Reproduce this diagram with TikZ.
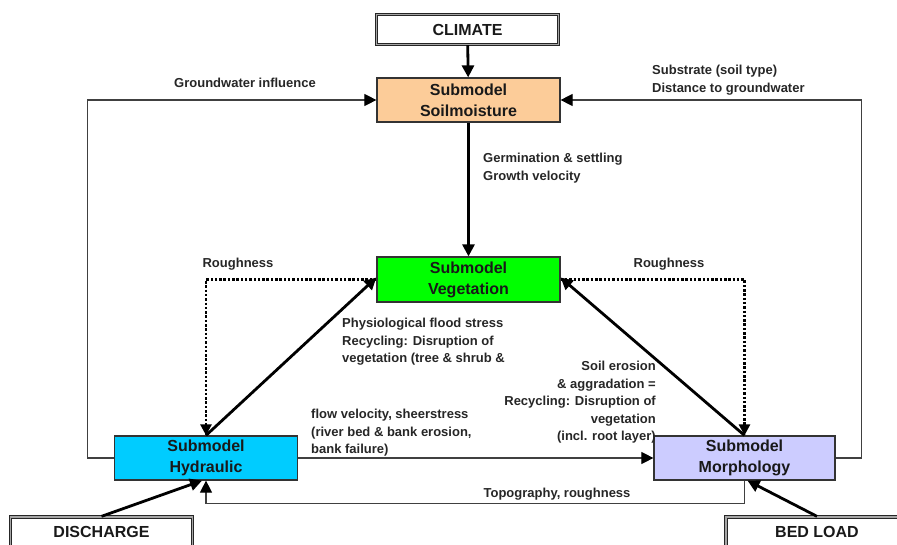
\documentclass[tikz,border=0pt]{standalone}
\usepackage{fontspec}
\setmainfont{Liberation Sans}
\usetikzlibrary{arrows.meta}

\definecolor{soilcol}{RGB}{252,204,153}
\definecolor{vegcol}{RGB}{0,255,0}
\definecolor{hydcol}{RGB}{0,204,255}
\definecolor{morphcol}{RGB}{204,204,255}

\tikzset{
    submodel/.style = {draw=black!80, line width=1.2pt, minimum width=183pt, minimum height=44pt, inner sep=0pt, align=center, text=black!90, font=\fontsize{16}{21}\selectfont\bfseries},
    inputbox/.style = {draw=black!85, double=black!35, double distance=1.2pt, line width=1.3pt, minimum width=182pt, minimum height=30pt, inner sep=0pt, text=black!90, font=\fontsize{16}{20}\selectfont\bfseries},
    remark/.style = {inner sep=0pt, text=black!85, font=\fontsize{13}{17.5}\selectfont\bfseries},
    link/.style = {draw=black!75, line width=1.1pt, -{Triangle[length=12pt,width=12pt,color=black]}},
    strong/.style = {draw=black, line width=2.8pt, -{Triangle[length=12pt,width=12pt]}},
    rough/.style = {draw=black, line width=2.5pt, dash pattern=on 2.5pt off 1.8pt, -{Triangle[length=11pt,width=11pt]}},
}

\begin{document}
\begin{tikzpicture}[x=1pt,y=-1pt]
        \useasboundingbox (0,0) rectangle (897,545);
        \clip (0,0) rectangle (897,545);
        %Inputs and submodels
        \node[inputbox] (climate) at (467.5,29.5) {CLIMATE};
        \node[submodel, fill=soilcol] (soil) at (468.5,100) {Submodel\\Soilmoisture};
        \node[submodel, fill=vegcol, minimum height=45pt] (veg) at (468.5,279.5) {Submodel\\Vegetation};
        \node[submodel, fill=hydcol] (hyd) at (206,458) {Submodel\\Hydraulic};
        \node[submodel, fill=morphcol, minimum width=181pt] (morph) at (744.5,458) {Submodel\\Morphology};
        \node[inputbox] (discharge) at (101.5,532) {DISCHARGE};
        \node[inputbox] (bedload) at (817,532) {BED LOAD};
        %Connectors
        \draw[strong] (climate) -- (soil);
        \draw[strong] (soil) -- (veg);
        \draw[link] (hyd.west) -- ++(-26,0) |- (soil.west);
        \draw[link] (morph.east) -- ++(26,0) |- (soil.east);
        \draw[rough] (veg.west) -| (hyd.north);
        \draw[rough] (veg.east) -| (morph.north);
        \draw[strong] (hyd.north) -- ([yshift=2pt]veg.west);
        \draw[strong] (morph.north) -- ([yshift=2pt]veg.east);
        \draw[link] (hyd) -- (morph);
        \draw[link] (morph.south) -- ++(0,23) -| (hyd.south);
        \draw[strong] (discharge.north) -- ([xshift=-4pt]hyd.south);
        \draw[strong] (bedload.north) -- ([xshift=3pt]morph.south);
        %Labels
        \node[remark] (gwtext) at (245,83) {Groundwater influence};
        \node[remark, anchor=north west, align=left] (subtext) at (652,65) {Substrate (soil type)\\Distance to groundwater};
        \node[remark, anchor=north west, align=left] (germtext) at (483,153) {Germination \& settling\\Growth velocity};
        \node[remark] (roughl) at (238,264) {Roughness};
        \node[remark] (roughr) at (669,264) {Roughness};
        \node[remark, anchor=north west, align=left] (stresstext) at (342,318) {Physiological flood stress\\Recycling: Disruption of\\vegetation (tree \& shrub \&};
        \node[remark, anchor=north east, align=right] (erotext) at (656,361) {Soil erosion\\\& aggradation =\\Recycling: Disruption of\\vegetation\\(incl. root layer)};
        \node[remark, anchor=north west, align=left] (flowtext) at (311,409) {flow velocity, sheerstress\\(river bed \& bank erosion,\\bank failure)};
        \node[remark] (topotext) at (557,494) {Topography, roughness};
\end{tikzpicture}
\end{document}
